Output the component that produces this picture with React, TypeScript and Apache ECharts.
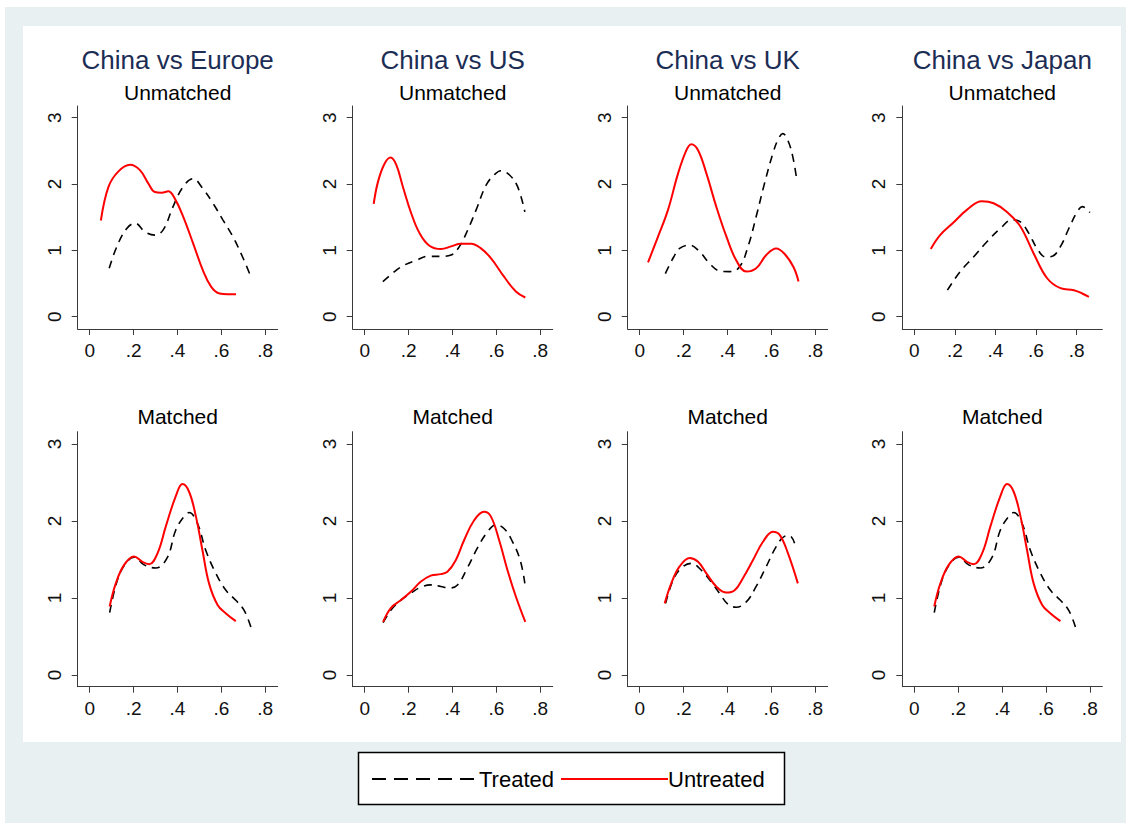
import React, { useEffect, useRef } from "react";
import * as echarts from "echarts";

// ---------- DATA ----------
const panelTitles = ["China vs Europe", "China vs US", "China vs UK", "China vs Japan"];
const rowTitles = ["Unmatched", "Matched"];
const xTickValues = [0, 0.2, 0.4, 0.6, 0.8];
const yTickValues = [0, 1, 2, 3];
const legendNames = ["Treated", "Untreated"];

// Unmatched (top row): [x, density]
const europeUnmatchedTreated = [[0.089,0.73],[0.124,1.06],[0.169,1.33],[0.207,1.41],[0.252,1.28],[0.297,1.23],[0.335,1.31],[0.38,1.66],[0.426,1.96],[0.471,2.08],[0.516,1.93],[0.562,1.71],[0.607,1.46],[0.652,1.21],[0.697,0.9],[0.735,0.6]];
const europeUnmatchedUntreated = [[0.051,1.45],[0.086,1.96],[0.131,2.19],[0.184,2.29],[0.229,2.21],[0.267,2.01],[0.297,1.88],[0.328,1.87],[0.358,1.89],[0.388,1.78],[0.426,1.51],[0.471,1.11],[0.516,0.7],[0.554,0.45],[0.592,0.35],[0.629,0.34],[0.667,0.34]];
const usUnmatchedTreated = [[0.083,0.53],[0.136,0.68],[0.182,0.78],[0.235,0.85],[0.288,0.91],[0.348,0.91],[0.394,0.93],[0.432,1.06],[0.47,1.31],[0.508,1.61],[0.553,1.98],[0.591,2.14],[0.621,2.2],[0.659,2.14],[0.697,1.96],[0.73,1.58]];
const usUnmatchedUntreated = [[0.041,1.7],[0.061,2.04],[0.091,2.31],[0.118,2.4],[0.144,2.29],[0.174,1.96],[0.212,1.56],[0.25,1.26],[0.295,1.07],[0.348,1.02],[0.394,1.06],[0.439,1.1],[0.485,1.1],[0.53,1.03],[0.576,0.88],[0.636,0.6],[0.689,0.38],[0.732,0.29]];
const ukUnmatchedTreated = [[0.117,0.65],[0.155,0.9],[0.182,1.03],[0.228,1.08],[0.273,0.98],[0.319,0.8],[0.364,0.69],[0.41,0.68],[0.455,0.75],[0.494,1.06],[0.531,1.51],[0.569,2.01],[0.607,2.46],[0.632,2.68],[0.652,2.76],[0.675,2.66],[0.698,2.41],[0.716,2.06]];
const ukUnmatchedUntreated = [[0.038,0.82],[0.084,1.21],[0.129,1.61],[0.175,2.16],[0.213,2.51],[0.235,2.6],[0.266,2.51],[0.304,2.16],[0.349,1.66],[0.395,1.21],[0.44,0.85],[0.486,0.68],[0.531,0.73],[0.577,0.93],[0.622,1.03],[0.66,0.95],[0.701,0.75],[0.724,0.53]];
const japanUnmatchedTreated = [[0.163,0.4],[0.226,0.68],[0.292,0.9],[0.358,1.13],[0.424,1.33],[0.482,1.46],[0.523,1.43],[0.564,1.26],[0.605,1.03],[0.647,0.9],[0.68,0.91],[0.721,1.06],[0.762,1.33],[0.803,1.58],[0.828,1.66],[0.866,1.57]];
const japanUnmatchedUntreated = [[0.081,1.02],[0.127,1.23],[0.193,1.42],[0.259,1.61],[0.333,1.74],[0.391,1.71],[0.457,1.58],[0.523,1.36],[0.589,0.95],[0.655,0.58],[0.721,0.43],[0.787,0.4],[0.828,0.35],[0.861,0.3]];

// Matched (bottom row)
const europeMatchedTreated = [[0.091,0.81],[0.126,1.23],[0.164,1.45],[0.202,1.53],[0.248,1.43],[0.301,1.39],[0.353,1.52],[0.392,1.88],[0.43,2.06],[0.453,2.11],[0.491,1.97],[0.529,1.62],[0.575,1.32],[0.621,1.1],[0.666,0.97],[0.704,0.84],[0.735,0.62]];
const europeMatchedUntreated = [[0.091,0.89],[0.119,1.19],[0.157,1.43],[0.202,1.54],[0.24,1.47],[0.271,1.44],[0.309,1.58],[0.347,1.93],[0.392,2.32],[0.423,2.48],[0.453,2.38],[0.484,2.06],[0.514,1.62],[0.544,1.19],[0.583,0.91],[0.621,0.8],[0.666,0.7]];
const usMatchedTreated = [[0.084,0.68],[0.119,0.84],[0.164,0.97],[0.21,1.06],[0.255,1.14],[0.301,1.17],[0.347,1.15],[0.385,1.13],[0.423,1.17],[0.468,1.39],[0.514,1.65],[0.56,1.86],[0.598,1.95],[0.636,1.9],[0.674,1.73],[0.709,1.49],[0.73,1.19]];
const usMatchedUntreated = [[0.084,0.69],[0.119,0.87],[0.164,0.97],[0.21,1.08],[0.255,1.21],[0.301,1.29],[0.347,1.31],[0.377,1.34],[0.415,1.49],[0.453,1.75],[0.499,2.01],[0.544,2.12],[0.575,2.06],[0.613,1.75],[0.651,1.36],[0.689,1.02],[0.732,0.69]];
const ukMatchedTreated = [[0.118,0.93],[0.152,1.23],[0.19,1.39],[0.235,1.45],[0.281,1.36],[0.326,1.21],[0.364,1.06],[0.402,0.92],[0.44,0.88],[0.486,0.95],[0.531,1.15],[0.577,1.41],[0.623,1.67],[0.66,1.8],[0.683,1.81],[0.706,1.71]];
const ukMatchedUntreated = [[0.114,0.93],[0.144,1.19],[0.182,1.41],[0.228,1.52],[0.266,1.47],[0.304,1.32],[0.349,1.15],[0.395,1.07],[0.433,1.1],[0.471,1.26],[0.516,1.49],[0.562,1.73],[0.607,1.86],[0.638,1.82],[0.676,1.58],[0.721,1.19]];
const japanMatchedTreated = [[0.091,0.81],[0.126,1.23],[0.164,1.45],[0.202,1.53],[0.248,1.43],[0.301,1.39],[0.353,1.52],[0.392,1.88],[0.43,2.06],[0.453,2.11],[0.491,1.97],[0.529,1.62],[0.575,1.32],[0.621,1.1],[0.666,0.97],[0.704,0.84],[0.735,0.62]];
const japanMatchedUntreated = [[0.091,0.89],[0.119,1.19],[0.157,1.43],[0.202,1.54],[0.24,1.47],[0.271,1.44],[0.309,1.58],[0.347,1.93],[0.392,2.32],[0.423,2.48],[0.453,2.38],[0.484,2.06],[0.514,1.62],[0.544,1.19],[0.583,0.91],[0.621,0.8],[0.666,0.7]];

const treatedSets = [
  [europeUnmatchedTreated, usUnmatchedTreated, ukUnmatchedTreated, japanUnmatchedTreated],
  [europeMatchedTreated, usMatchedTreated, ukMatchedTreated, japanMatchedTreated],
];
const untreatedSets = [
  [europeUnmatchedUntreated, usUnmatchedUntreated, ukUnmatchedUntreated, japanUnmatchedUntreated],
  [europeMatchedUntreated, usMatchedUntreated, ukMatchedUntreated, japanMatchedUntreated],
];

// ---------- LAYOUT ----------
const FONT = "'Liberation Sans', Arial, sans-serif";
const colLeft = [77.7, 352.7, 627.7, 902.3];
const gridWidth = 200;
const rowTop = [106, 431.7];
const rowHeight = [223, 255];
const yRange = [[-0.185, 3.176], [-0.152, 3.16]];
const xRangeDefault = [-0.0547, 0.857];
const xRangeTopJapan = [-0.0594, 0.927];

function buildOption() {
  const grid: any[] = [];
  const xAxis: any[] = [];
  const yAxis: any[] = [];
  const series: any[] = [];
  const graphic: any[] = [];

  graphic.push({ type: "rect", shape: { x: 0, y: 0, width: 1131, height: 828 }, style: { fill: "#ffffff" }, silent: true, z: -10 });
  graphic.push({ type: "rect", shape: { x: 5, y: 7, width: 1121, height: 816 }, style: { fill: "#e9f0f2" }, silent: true, z: -9 });
  graphic.push({ type: "rect", shape: { x: 23, y: 26, width: 1098, height: 716 }, style: { fill: "#ffffff" }, silent: true, z: -8 });

  let idx = 0;
  for (let r = 0; r < 2; r++) {
    for (let c = 0; c < 4; c++) {
      const left = colLeft[c];
      const top = rowTop[r];
      grid.push({ left, top, width: gridWidth, height: rowHeight[r], containLabel: false });
      const xr = r === 0 && c === 3 ? xRangeTopJapan : xRangeDefault;
      xAxis.push({
        type: "value",
        gridIndex: idx,
        min: xr[0],
        max: xr[1],
        splitLine: { show: false },
        axisLine: { show: true, onZero: false, lineStyle: { color: "#3a3a3a", width: 1 } },
        axisTick: { show: true, length: 6, customValues: xTickValues, lineStyle: { color: "#3a3a3a" } },
        axisLabel: {
          customValues: xTickValues,
          margin: 12,
          fontSize: 19,
          fontFamily: FONT,
          color: "#111",
          formatter: (v: number) => (v === 0 ? "0" : String(Math.round(v * 10) / 10).replace(/^0/, "")),
        },
      });
      yAxis.push({
        type: "value",
        gridIndex: idx,
        min: yRange[r][0],
        max: yRange[r][1],
        splitLine: { show: false },
        axisLine: { show: true, onZero: false, lineStyle: { color: "#3a3a3a", width: 1 } },
        axisTick: { show: true, length: 6, customValues: yTickValues, lineStyle: { color: "#3a3a3a" } },
        axisLabel: {
          customValues: yTickValues,
          rotate: 90,
          margin: 14,
          fontSize: 19,
          fontFamily: FONT,
          color: "#111",
          formatter: (v: number) => String(v),
        },
      });
      series.push({
        type: "line",
        name: legendNames[0],
        xAxisIndex: idx,
        yAxisIndex: idx,
        data: treatedSets[r][c],
        smooth: 0.4,
        showSymbol: false,
        symbol: "none",
        lineStyle: { color: "#000000", width: 1.6, type: [8, 6] },
        z: 3,
      });
      series.push({
        type: "line",
        name: legendNames[1],
        xAxisIndex: idx,
        yAxisIndex: idx,
        data: untreatedSets[r][c],
        smooth: 0.4,
        showSymbol: false,
        symbol: "none",
        lineStyle: { color: "#ff0000", width: 2 },
        z: 4,
      });

      const cx = left + gridWidth / 2;
      if (r === 0) {
        graphic.push({
          type: "text",
          x: cx,
          y: 60,
          style: { text: panelTitles[c], fontSize: 26, fontFamily: FONT, fill: "#1c2d55", align: "center", verticalAlign: "middle" },
        });
        graphic.push({
          type: "text",
          x: cx,
          y: 92,
          style: { text: rowTitles[0], fontSize: 21, fontFamily: FONT, fill: "#000", align: "center", verticalAlign: "middle" },
        });
      } else {
        graphic.push({
          type: "text",
          x: cx,
          y: 416,
          style: { text: rowTitles[1], fontSize: 21, fontFamily: FONT, fill: "#000", align: "center", verticalAlign: "middle" },
        });
      }
      idx++;
    }
  }

  // legend
  graphic.push({ type: "rect", shape: { x: 358.5, y: 752.5, width: 426, height: 52 }, style: { fill: "#ffffff", stroke: "#000", lineWidth: 1.5 } });
  graphic.push({ type: "line", shape: { x1: 372, y1: 779, x2: 478, y2: 779 }, style: { stroke: "#000", lineWidth: 2, lineDash: [14, 8] } });
  graphic.push({ type: "text", x: 479, y: 779, style: { text: legendNames[0], fontSize: 22, fontFamily: FONT, fill: "#000", align: "left", verticalAlign: "middle" } });
  graphic.push({ type: "line", shape: { x1: 561, y1: 779, x2: 668, y2: 779 }, style: { stroke: "#ff0000", lineWidth: 2 } });
  graphic.push({ type: "text", x: 668, y: 779, style: { text: legendNames[1], fontSize: 22, fontFamily: FONT, fill: "#000", align: "left", verticalAlign: "middle" } });

  return { animation: false, backgroundColor: "#ffffff", grid, xAxis, yAxis, series, graphic };
}

export default function App() {
  const ref = useRef<HTMLDivElement>(null);
  useEffect(() => {
    if (!ref.current) return;
    const chart = echarts.init(ref.current, undefined, { renderer: "svg" });
    chart.setOption(buildOption() as any);
    return () => chart.dispose();
  }, []);
  return <div ref={ref} style={{ position: "absolute", left: 0, top: 0, width: 1131, height: 828 }} />;
}
